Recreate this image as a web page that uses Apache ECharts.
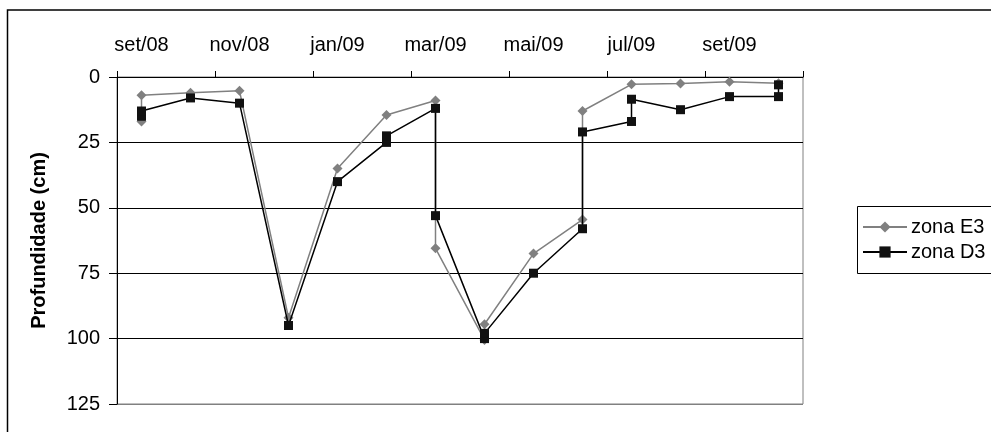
<!DOCTYPE html>
<html>
<head>
<meta charset="utf-8">
<script src="https://cdn.jsdelivr.net/npm/echarts@6/dist/echarts.min.js"></script>
<style>
html,body{margin:0;padding:0;background:#fff;}
#chart{width:991px;height:432px;}
</style>
</head>
<body>
<div id="chart"></div>
<script>
// Month categories of the date axis (one slot per month)
var months = ['set/08','out/08','nov/08','dez/08','jan/09','fev/09','mar/09','abr/09','mai/09','jun/09','jul/09','ago/09','set/09','out/09'];
var yTicks = [0, 25, 50, 75, 100, 125];

// zona E3
var e3Months = ['set/08','set/08','out/08','nov/08','dez/08','jan/09','fev/09','mar/09','mar/09','abr/09','abr/09','mai/09','jun/09','jun/09','jul/09','ago/09','set/09','out/09'];
var e3Values = [17, 7, 6, 5.3, 92, 35, 14.5, 9, 65.5, 100.5, 94.5, 67.5, 54.5, 13, 2.8, 2.5, 1.8, 2.4];

// zona D3
var d3Months = ['set/08','set/08','out/08','nov/08','dez/08','jan/09','fev/09','fev/09','mar/09','mar/09','abr/09','abr/09','mai/09','jun/09','jun/09','jul/09','jul/09','ago/09','set/09','out/09','out/09'];
var d3Values = [15, 13, 8, 10, 95, 40, 25, 22.5, 12, 53, 100, 98, 75, 58, 21, 17, 8.5, 12.5, 7.5, 7.5, 3];

function zip(a, b) { return a.map(function (m, i) { return [m, b[i]]; }); }

var FONT = 'Liberation Sans, Arial, sans-serif';
var chart = echarts.init(document.getElementById('chart'), null, {renderer: 'canvas'});
chart.setOption({
  animation: false,
  backgroundColor: '#fff',
  graphic: [
    {type: 'rect', shape: {x: 7.5, y: 10, width: 1200, height: 600}, style: {fill: 'none', stroke: '#000', lineWidth: 1.5}, silent: true, z: -10},
    {type: 'rect', shape: {x: 857.5, y: 206.5, width: 300, height: 67}, style: {fill: '#fff', stroke: '#000', lineWidth: 1}, silent: true, z: -5}
  ],
  grid: {left: 117, top: 77, right: 188, bottom: 28, show: true, borderColor: '#808080', borderWidth: 1, backgroundColor: 'transparent'},
  legend: {
    orient: 'vertical', left: 862, top: 217, padding: 0,
    itemWidth: 44, itemHeight: 14, itemGap: 5,
    textStyle: {fontFamily: FONT, fontSize: 20, color: '#000', lineHeight: 20, padding: [0, 0, 0, -1]},
    data: ['zona E3', 'zona D3']
  },
  xAxis: {
    type: 'category', position: 'top', data: months, boundaryGap: true,
    axisLine: {show: true, lineStyle: {color: '#000', width: 1}},
    axisTick: {show: true, interval: 1, length: 6, inside: false, lineStyle: {color: '#000'}},
    axisLabel: {interval: 1, margin: 22, fontFamily: FONT, fontSize: 20, color: '#000'},
    splitLine: {show: false}
  },
  yAxis: {
    type: 'value', inverse: true, min: yTicks[0], max: yTicks[yTicks.length - 1], interval: 25,
    name: 'Profundidade (cm)', nameLocation: 'middle', nameRotate: 90, nameGap: 68,
    nameTextStyle: {fontFamily: FONT, fontSize: 20, fontWeight: 'bold', color: '#000'},
    axisLine: {show: true, lineStyle: {color: '#000', width: 1}},
    axisTick: {show: true, length: 8, lineStyle: {color: '#000'}},
    axisLabel: {margin: 17, fontFamily: FONT, fontSize: 20, color: '#000'},
    splitLine: {show: true, lineStyle: {color: ['#000', '#000', '#000', '#000', '#000', '#808080'], width: 1}}
  },
  series: [
    {
      name: 'zona E3', type: 'line', data: zip(e3Months, e3Values),
      symbol: 'diamond', symbolSize: 10, showAllSymbol: true,
      lineStyle: {color: '#808080', width: 1.5},
      itemStyle: {color: '#808080', borderWidth: 0},
      z: 3
    },
    {
      name: 'zona D3', type: 'line', data: zip(d3Months, d3Values),
      symbol: 'rect', symbolSize: 9, showAllSymbol: true,
      lineStyle: {color: '#000', width: 1.5},
      itemStyle: {color: '#111', borderWidth: 0},
      z: 4
    }
  ]
});
</script>
</body>
</html>
